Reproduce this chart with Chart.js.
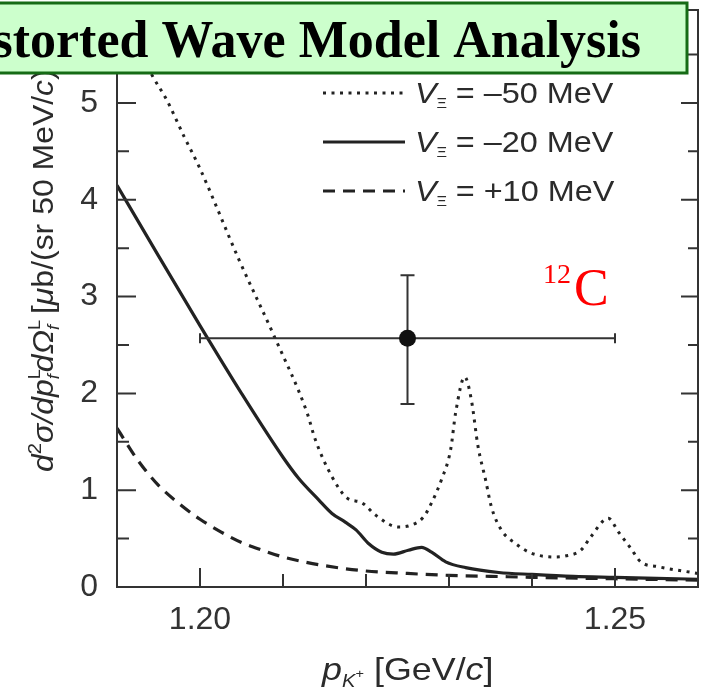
<!DOCTYPE html>
<html>
<head>
<meta charset="utf-8">
<title>Distorted Wave Model Analysis</title>
<script src="https://cdn.jsdelivr.net/npm/chart.js@4.4.0/dist/chart.umd.min.js"></script>
<style>
  html, body { margin: 0; padding: 0; background: #fff; }
  #wrap { position: relative; width: 701px; height: 690px; }
</style>
</head>
<body>
<div id="wrap"><canvas id="dwChart" width="701" height="690"></canvas></div>
<script>
// V_Xi = -50 MeV (dotted)
const xM50 = [1.19, 1.192, 1.1942, 1.196, 1.1981, 1.1999, 1.2047, 1.2091, 1.2129, 1.2139, 1.2159, 1.2177,
  1.2195, 1.2212, 1.2239, 1.2251, 1.2269, 1.2279, 1.2291, 1.2302, 1.2308, 1.2319, 1.2327, 1.2335, 1.2344,
  1.2351, 1.2363, 1.238, 1.2399, 1.2428, 1.244, 1.2459, 1.2471, 1.2492, 1.2504, 1.2519, 1.2531, 1.2552, 1.26];
const yM50 = [6.1, 5.68, 5.29, 5.03, 4.65, 4.34, 3.38, 2.56, 1.8, 1.52, 1.14, 0.92,
  0.87, 0.74, 0.62, 0.63, 0.72, 0.87, 1.11, 1.42, 1.8, 2.17, 1.93, 1.45, 1.11,
  0.83, 0.59, 0.45, 0.35, 0.31, 0.32, 0.38, 0.52, 0.71, 0.57, 0.4, 0.26, 0.21, 0.14];

// V_Xi = -20 MeV (solid)
const xM20 = [1.19, 1.195, 1.2, 1.205, 1.21, 1.2119, 1.2143, 1.2159, 1.2175, 1.2188, 1.2203, 1.2219,
  1.2233, 1.2251, 1.2267, 1.2279, 1.2296, 1.232, 1.236, 1.24, 1.245, 1.25, 1.255, 1.26];
const yM20 = [4.15, 3.42, 2.7, 2.0, 1.34, 1.12, 0.9, 0.76, 0.67, 0.59, 0.45, 0.36,
  0.34, 0.38, 0.41, 0.36, 0.26, 0.2, 0.15, 0.13, 0.11, 0.1, 0.09, 0.08];

// V_Xi = +10 MeV (dashed)
const xP10 = [1.19, 1.1925, 1.195, 1.1975, 1.2, 1.2025, 1.205, 1.2075, 1.21, 1.2125, 1.215, 1.22,
  1.225, 1.23, 1.235, 1.24, 1.25, 1.26];
const yP10 = [1.64, 1.31, 1.05, 0.86, 0.7, 0.57, 0.46, 0.38, 0.31, 0.26, 0.22, 0.165,
  0.14, 0.12, 0.11, 0.1, 0.085, 0.07];

// measured point with errors
const dataX = [1.225];
const dataY = [2.57];
const dataXLo = [1.20];
const dataXHi = [1.25];
const dataYLo = [1.89];
const dataYHi = [3.22];

const seriesLabels = ['\u201350 MeV', '\u201320 MeV', '+10 MeV'];
const xTickLabels = [1.20, 1.25];
const yTickLabels = [0, 1, 2, 3, 4, 5];

const SANS = '"Liberation Sans", Arial, Helvetica, sans-serif';
const SERIF = '"Liberation Serif", "Times New Roman", serif';
const INK = '#222';

function pairs(xs, ys) {
  return xs.map((x, i) => ({ x: x, y: ys[i] }));
}

// draw a run of text pieces (italic / sub / sup) one after another, optionally stretched
function drawRich(ctx, x, y, parts, color, sx) {
  ctx.save();
  ctx.translate(x, y);
  ctx.scale(sx || 1, 1);
  ctx.textAlign = 'left';
  ctx.textBaseline = 'alphabetic';
  let cx = 0;
  parts.forEach(p => {
    ctx.font = (p.italic ? 'italic ' : '') + p.size + 'px ' + (p.family || SANS);
    ctx.fillStyle = p.color || color;
    ctx.fillText(p.t, cx, p.dy || 0);
    if (!p.keep) cx += ctx.measureText(p.t).width + (p.gap || 0);
  });
  ctx.restore();
}

const figurePlugin = {
  id: 'figure',
  afterDatasetsDraw(chart) {
    // data point with x and y error bars
    const ctx = chart.ctx, xs = chart.scales.x, ys = chart.scales.y;
    ctx.save();
    ctx.strokeStyle = '#333';
    ctx.lineWidth = 2;
    for (let i = 0; i < dataX.length; i++) {
      const px = xs.getPixelForValue(dataX[i]), py = ys.getPixelForValue(dataY[i]);
      const x0 = xs.getPixelForValue(dataXLo[i]), x1 = xs.getPixelForValue(dataXHi[i]);
      const y0 = ys.getPixelForValue(dataYLo[i]), y1 = ys.getPixelForValue(dataYHi[i]);
      ctx.beginPath();
      ctx.moveTo(x0, py); ctx.lineTo(x1, py);
      ctx.moveTo(x0, py - 5); ctx.lineTo(x0, py + 5);
      ctx.moveTo(x1, py - 5); ctx.lineTo(x1, py + 5);
      ctx.moveTo(px, y0); ctx.lineTo(px, y1);
      ctx.moveTo(px - 7, y0); ctx.lineTo(px + 7, y0);
      ctx.moveTo(px - 7, y1); ctx.lineTo(px + 7, y1);
      ctx.stroke();
      ctx.beginPath();
      ctx.fillStyle = '#111';
      ctx.arc(px, py, 8.5, 0, Math.PI * 2);
      ctx.fill();
    }
    ctx.restore();
  },
  afterDraw(chart) {
    const ctx = chart.ctx, a = chart.chartArea, xs = chart.scales.x, ys = chart.scales.y;
    ctx.save();

    // frame and inward ticks
    ctx.strokeStyle = '#333';
    ctx.lineWidth = 2;
    ctx.strokeRect(a.left, a.top, a.right - a.left, a.bottom - a.top);
    ctx.beginPath();
    xs.ticks.forEach(t => {
      const v = t.value;
      if (v <= xs.min + 1e-6 || v >= xs.max - 1e-6) return;
      const px = xs.getPixelForValue(v);
      const major = xTickLabels.some(m => Math.abs(m - v) < 1e-6);
      const len = major ? 19 : 13;
      ctx.moveTo(px, a.bottom); ctx.lineTo(px, a.bottom - len);
      ctx.moveTo(px, a.top); ctx.lineTo(px, a.top + len);
    });
    ys.ticks.forEach(t => {
      const v = t.value;
      if (v <= ys.min + 1e-6 || v >= ys.max - 1e-6) return;
      const py = ys.getPixelForValue(v);
      const major = Math.abs(v - Math.round(v)) < 1e-6;
      ctx.moveTo(a.left, py); ctx.lineTo(a.left + (major ? 19 : 12), py);
      ctx.moveTo(a.right, py); ctx.lineTo(a.right - (major ? 17 : 10), py);
    });
    ctx.stroke();

    // legend
    const styles = chart.data.datasets.slice(0, 3);
    const rowY = [93, 142, 191];
    styles.forEach((ds, i) => {
      ctx.beginPath();
      ctx.setLineDash(ds.borderDash || []);
      ctx.lineWidth = ds.borderWidth;
      ctx.strokeStyle = ds.borderColor;
      ctx.moveTo(323, rowY[i]); ctx.lineTo(405, rowY[i]);
      ctx.stroke();
      ctx.setLineDash([]);
      drawRich(ctx, 415, rowY[i] + 10, [
        { t: 'V', size: 30, italic: true },
        { t: '\u039E', size: 15, dy: 5, gap: 8 },
        { t: '= ' + seriesLabels[i], size: 30 }
      ], '#2b2b2b', 1.08);
    });

    // target label
    drawRich(ctx, 543, 283, [{ t: '12', size: 28, family: SERIF }], '#ff0000');
    drawRich(ctx, 574, 305, [{ t: 'C', size: 52, family: SERIF }], '#ff0000');

    // x axis title
    drawRich(ctx, 322, 680, [
      { t: 'p', size: 32, italic: true },
      { t: 'K', size: 18, italic: true, dy: 7 },
      { t: '+', size: 13, dy: -2, gap: 9 },
      { t: '[GeV/', size: 32 },
      { t: 'c', size: 32, italic: true },
      { t: ']', size: 32 }
    ], '#2b2b2b', 1.12);

    // y axis title (rotated)
    ctx.save();
    ctx.translate(53, 472);
    ctx.rotate(-Math.PI / 2);
    drawRich(ctx, 0, 0, [
      { t: 'd', size: 30, italic: true },
      { t: '2', size: 19, dy: -12 },
      { t: '\u03C3/dp', size: 30, italic: true },
      { t: 'L', size: 17, dy: -13, keep: true },
      { t: 'f', size: 17, italic: true, dy: 6, gap: 2 },
      { t: 'd\u03A9', size: 30, italic: true },
      { t: 'L', size: 17, dy: -13, keep: true },
      { t: 'f', size: 17, italic: true, dy: 6, gap: 2 },
      { t: ' [', size: 30 },
      { t: '\u03BC', size: 30, italic: true },
      { t: 'b/(sr 50 MeV/', size: 30 },
      { t: 'c', size: 30, italic: true },
      { t: ')]', size: 30 }
    ], '#2b2b2b', 1.065);
    ctx.restore();

    // title banner
    ctx.fillStyle = '#ccffcc';
    ctx.fillRect(-10, 3, 698, 70);
    ctx.strokeStyle = '#156b15';
    ctx.lineWidth = 3;
    ctx.strokeRect(-10, 3, 697, 70);
    ctx.fillStyle = '#000';
    ctx.font = 'bold 52px ' + SERIF;
    ctx.textAlign = 'right';
    ctx.textBaseline = 'alphabetic';
    ctx.fillText('storted Wave Model Analysis', 641, 57);

    ctx.restore();
  }
};

new Chart(document.getElementById('dwChart'), {
  type: 'scatter',
  data: {
    datasets: [
      {
        label: 'V = ' + seriesLabels[0],
        data: pairs(xM50, yM50),
        showLine: true, borderColor: INK, borderWidth: 3, borderDash: [3, 5.5],
        pointRadius: 0, cubicInterpolationMode: 'monotone'
      },
      {
        label: 'V = ' + seriesLabels[1],
        data: pairs(xM20, yM20),
        showLine: true, borderColor: INK, borderWidth: 3.2,
        pointRadius: 0, cubicInterpolationMode: 'monotone'
      },
      {
        label: 'V = ' + seriesLabels[2],
        data: pairs(xP10, yP10),
        showLine: true, borderColor: INK, borderWidth: 3.2, borderDash: [12, 8],
        pointRadius: 0, cubicInterpolationMode: 'monotone'
      }
    ]
  },
  options: {
    responsive: false,
    animation: false,
    devicePixelRatio: 1,
    layout: { padding: { top: 10, right: 3, left: 0, bottom: 0 } },
    plugins: { legend: { display: false }, tooltip: { enabled: false } },
    scales: {
      x: {
        type: 'linear', min: 1.19, max: 1.26,
        grid: { display: false, drawTicks: false },
        border: { display: false },
        ticks: {
          stepSize: 0.01, autoSkip: false, maxRotation: 0, padding: 14,
          color: '#333', font: { family: SANS, size: 32 },
          callback: v => {
            const hit = xTickLabels.find(m => Math.abs(m - v) < 1e-6);
            return hit === undefined ? '' : hit.toFixed(2);
          }
        },
        afterFit: s => { s.height = 103; s.paddingLeft = 0; s.paddingRight = 0; }
      },
      y: {
        min: 0, max: 5.96,
        grid: { display: false, drawTicks: false },
        border: { display: false },
        ticks: {
          stepSize: 0.5, autoSkip: false, padding: 19,
          color: '#333', font: { family: SANS, size: 32 },
          callback: v => {
            const hit = yTickLabels.find(m => Math.abs(m - v) < 1e-6);
            return hit === undefined ? '' : String(hit);
          }
        },
        afterFit: s => { s.width = 117; s.paddingTop = 0; s.paddingBottom = 0; }
      }
    }
  },
  plugins: [figurePlugin]
});
</script>
</body>
</html>
